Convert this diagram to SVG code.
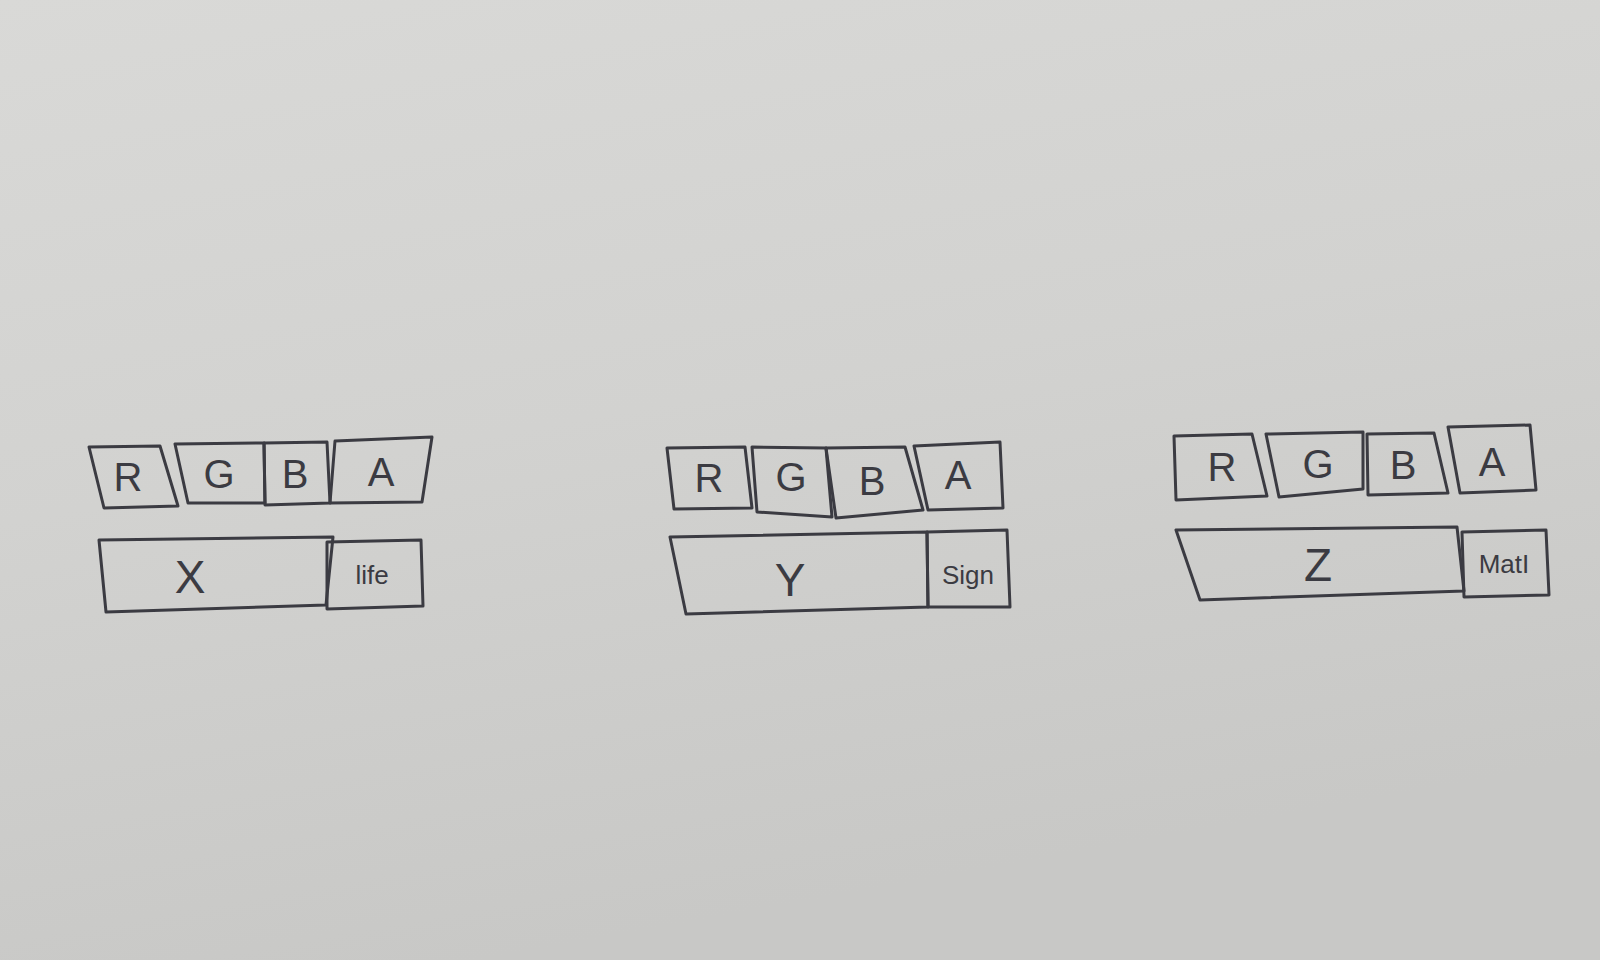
<svg xmlns="http://www.w3.org/2000/svg" width="1600" height="960" viewBox="0 0 1600 960">
<defs>
<linearGradient id="paper" x1="0" y1="0" x2="0.3" y2="1">
<stop offset="0" stop-color="#d9d9d7"/>
<stop offset="0.5" stop-color="#d2d2d0"/>
<stop offset="1" stop-color="#c8c8c6"/>
</linearGradient>
<style>
.cell{fill:none;stroke:#3b3b42;stroke-width:3;stroke-linejoin:round;stroke-linecap:round}
.ch{font-family:"Liberation Sans",Arial,sans-serif;font-size:40px;fill:#3b3b42;text-anchor:middle;dominant-baseline:central}
.big{font-family:"Liberation Sans",Arial,sans-serif;font-size:46px;fill:#3b3b42;text-anchor:middle;dominant-baseline:central}
.sm{font-family:"Liberation Sans",Arial,sans-serif;font-size:26px;fill:#3b3b42;text-anchor:middle;dominant-baseline:central}
</style>
</defs>
<rect width="1600" height="960" fill="url(#paper)"/>

<g id="group-x">
<g id="x-r"><path class="cell" d="M89,447 L160,446 L178,506 L104,508 Z"/><text class="ch" x="128" y="477">R</text></g>
<g id="x-g"><path class="cell" d="M175,444 L264,443 L265,503 L188,503 Z"/><text class="ch" x="219" y="474">G</text></g>
<g id="x-b"><path class="cell" d="M264,443 L327,442 L330,503 L265,505 Z"/><text class="ch" x="295" y="474">B</text></g>
<g id="x-a"><path class="cell" d="M335,441 L432,437 L422,502 L330,503 Z"/><text class="ch" x="381" y="472">A</text></g>
<g id="x-x"><path class="cell" d="M99,540 L333,537 L326,605 L106,612 Z"/><text class="big" x="190" y="577">X</text></g>
<g id="x-life"><path class="cell" d="M327,542 L421,540 L423,606 L327,609 Z"/><text class="sm" x="372" y="575">life</text></g>
</g>

<g id="group-y">
<g id="y-r"><path class="cell" d="M667,448 L745,447 L752,508 L674,509 Z"/><text class="ch" x="709" y="478">R</text></g>
<g id="y-g"><path class="cell" d="M752,447 L826,448 L832,517 L757,512 Z"/><text class="ch" x="791" y="477">G</text></g>
<g id="y-b"><path class="cell" d="M826,448 L905,447 L923,510 L836,518 Z"/><text class="ch" x="872" y="481">B</text></g>
<g id="y-a"><path class="cell" d="M914,446 L1000,442 L1003,508 L928,510 Z"/><text class="ch" x="958" y="475">A</text></g>
<g id="y-y"><path class="cell" d="M670,537 L927,532 L928,607 L686,614 L670,537 Z"/><text class="big" x="790" y="580">Y</text></g>
<g id="y-sign"><path class="cell" d="M927,532 L1007,530 L1010,607 L928,607 Z"/><text class="sm" x="968" y="575">Sign</text></g>
</g>

<g id="group-z">
<g id="z-r"><path class="cell" d="M1174,436 L1252,434 L1267,496 L1176,500 Z"/><text class="ch" x="1222" y="467">R</text></g>
<g id="z-g"><path class="cell" d="M1266,434 L1363,432 L1363,489 L1279,497 Z"/><text class="ch" x="1318" y="464">G</text></g>
<g id="z-b"><path class="cell" d="M1367,434 L1434,433 L1448,493 L1368,495 Z"/><text class="ch" x="1403" y="465">B</text></g>
<g id="z-a"><path class="cell" d="M1448,427 L1530,425 L1536,490 L1460,493 Z"/><text class="ch" x="1492" y="462">A</text></g>
<g id="z-z"><path class="cell" d="M1176,530 L1457,527 L1464,591 L1200,600 Z"/><text class="big" x="1318" y="565">Z</text></g>
<g id="z-mat"><path class="cell" d="M1462,532 L1546,530 L1549,595 L1464,597 Z"/><text class="sm" x="1504" y="564">MatI</text></g>
</g>
</svg>
